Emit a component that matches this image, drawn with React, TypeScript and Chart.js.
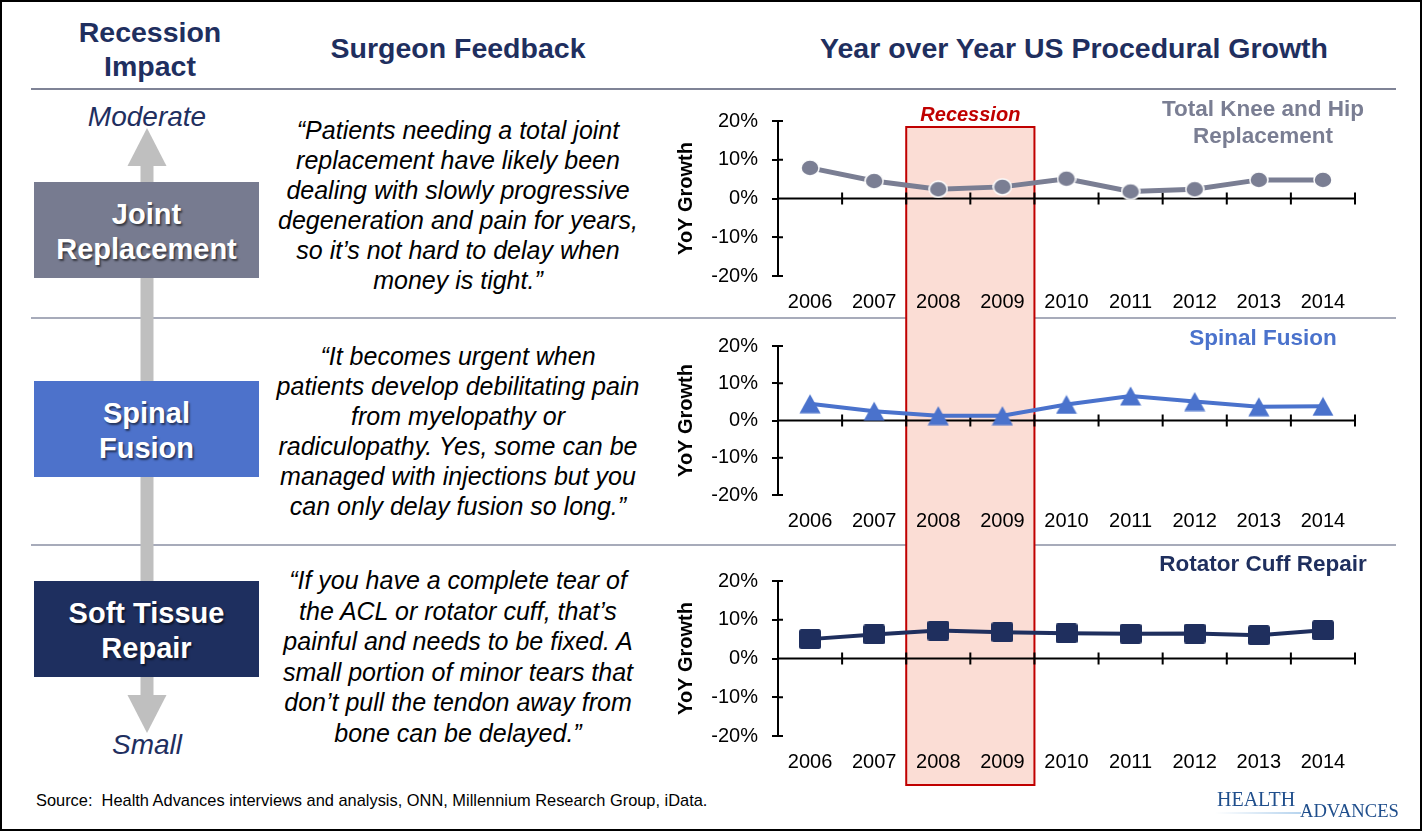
import React, { useEffect, useRef } from 'react';
import { Chart, registerables } from 'chart.js';

Chart.register(...registerables);

// ---------------- data ----------------
const years = ['2006', '2007', '2008', '2009', '2010', '2011', '2012', '2013', '2014'];
const kneeHipGrowth = [7.9, 4.5, 2.4, 3.0, 5.1, 1.8, 2.4, 4.8, 4.8];
const spinalFusionGrowth = [4.5, 2.5, 1.3, 1.3, 4.3, 6.6, 5.1, 3.7, 3.8];
const rotatorCuffGrowth = [5.0, 6.2, 7.2, 6.8, 6.5, 6.4, 6.45, 6.0, 7.3];
const yTickValues = [-20, -10, 0, 10, 20];
const recessionYears = ['2008', '2009'];

const seriesTitles = ['Total Knee and Hip\nReplacement', 'Spinal Fusion', 'Rotator Cuff Repair'];
const categoryNames = ['Joint\nReplacement', 'Spinal\nFusion', 'Soft Tissue\nRepair'];
const quotes = [
  '“Patients needing a total joint\nreplacement have likely been\ndealing with slowly progressive\ndegeneration and pain for years,\nso it’s not hard to delay when\nmoney is tight.”',
  '“It becomes urgent when\npatients develop debilitating pain\nfrom myelopathy or\nradiculopathy. Yes, some can be\nmanaged with injections but you\ncan only delay fusion so long.”',
  '“If you have a complete tear of\nthe ACL or rotator cuff, that’s\npainful and needs to be fixed. A\nsmall portion of minor tears that\ndon’t pull the tendon away from\nbone can be delayed.”',
];

const FONT = 'Arial, "Liberation Sans", sans-serif';
const NAVY = '#1F2F5F';
const GRAY_SERIES = '#7A7E93';
const BLUE_SERIES = '#4A72CC';
const NAVY_SERIES = '#1F2F5E';

type PanelCfg = {
  values: number[];
  color: string;
  lineWidth: number;
  marker: 'circle' | 'triangle' | 'square';
  top: number;
  height: number;
  padTop: number;
  areaH: number;
  bandTop: number | null;
  bandBottom: number | null;
  showLabel: boolean;
};

const panels: PanelCfg[] = [
  { values: kneeHipGrowth, color: GRAY_SERIES, lineWidth: 5, marker: 'circle', top: 95, height: 225, padTop: 25, areaH: 156, bandTop: 32, bandBottom: null, showLabel: true },
  { values: spinalFusionGrowth, color: BLUE_SERIES, lineWidth: 4, marker: 'triangle', top: 320, height: 225, padTop: 21, areaH: 154, bandTop: null, bandBottom: null, showLabel: false },
  { values: rotatorCuffGrowth, color: NAVY_SERIES, lineWidth: 4, marker: 'square', top: 545, height: 245, padTop: 36, areaH: 155, bandTop: null, bandBottom: 240, showLabel: false },
];

function makeMarker(kind: string, color: string): HTMLCanvasElement {
  const c = document.createElement('canvas');
  if (kind === 'circle') {
    c.width = 20; c.height = 18;
    const g = c.getContext('2d')!;
    g.beginPath();
    g.ellipse(10, 9, 9, 8, 0, 0, Math.PI * 2);
    g.fillStyle = color; g.fill();
    g.lineWidth = 1.5; g.strokeStyle = '#ffffff'; g.stroke();
  } else if (kind === 'triangle') {
    c.width = 22; c.height = 20;
    const g = c.getContext('2d')!;
    g.beginPath();
    g.moveTo(0.5, 19.5); g.lineTo(11, 0.5); g.lineTo(21.5, 19.5); g.closePath();
    g.fillStyle = color; g.fill();
  } else {
    c.width = 22; c.height = 20;
    const g = c.getContext('2d')!;
    const r = 2.5;
    g.beginPath();
    g.moveTo(r, 0); g.lineTo(22 - r, 0); g.quadraticCurveTo(22, 0, 22, r);
    g.lineTo(22, 20 - r); g.quadraticCurveTo(22, 20, 22 - r, 20);
    g.lineTo(r, 20); g.quadraticCurveTo(0, 20, 0, 20 - r);
    g.lineTo(0, r); g.quadraticCurveTo(0, 0, r, 0); g.closePath();
    g.fillStyle = color; g.fill();
  }
  return c;
}

const framePlugin = {
  id: 'frame',
  beforeDraw(chart: any, _args: any, opts: any) {
    const { ctx, scales } = chart;
    const x = scales.x;
    const half = (x.getPixelForValue(1) - x.getPixelForValue(0)) / 2;
    const i0 = years.indexOf(recessionYears[0]);
    const i1 = years.indexOf(recessionYears[recessionYears.length - 1]);
    const bx0 = x.getPixelForValue(i0) - half;
    const bx1 = x.getPixelForValue(i1) + half;
    const top = opts.bandTop ?? 0;
    const bottom = opts.bandBottom ?? chart.height;
    ctx.save();
    ctx.fillStyle = '#FBDDD5';
    ctx.fillRect(bx0, top, bx1 - bx0, bottom - top);
    ctx.strokeStyle = '#C00000';
    ctx.lineWidth = 2;
    ctx.beginPath();
    ctx.moveTo(bx0, top); ctx.lineTo(bx0, bottom);
    ctx.moveTo(bx1, top); ctx.lineTo(bx1, bottom);
    if (opts.bandTop != null) { ctx.moveTo(bx0 - 1, top); ctx.lineTo(bx1 + 1, top); }
    if (opts.bandBottom != null) { ctx.moveTo(bx0 - 1, bottom); ctx.lineTo(bx1 + 1, bottom); }
    ctx.stroke();
    if (opts.showLabel) {
      ctx.font = `italic bold 20px ${FONT}`;
      ctx.fillStyle = '#C00000';
      ctx.textAlign = 'center';
      ctx.textBaseline = 'middle';
      ctx.fillText('Recession', (bx0 + bx1) / 2, top - 12);
    }
    ctx.restore();
  },
  beforeDatasetsDraw(chart: any) {
    const { ctx, chartArea, scales } = chart;
    const x = scales.x;
    const y = scales.y;
    const half = (x.getPixelForValue(1) - x.getPixelForValue(0)) / 2;
    const y0 = y.getPixelForValue(0);
    ctx.save();
    ctx.strokeStyle = '#000';
    ctx.lineWidth = 2;
    ctx.beginPath();
    ctx.moveTo(chartArea.left, y0);
    ctx.lineTo(chartArea.right, y0);
    for (let k = 0; k < years.length; k++) {
      const xb = x.getPixelForValue(k) + half;
      ctx.moveTo(xb, y0 - 6);
      ctx.lineTo(xb, y0 + 6);
    }
    for (const v of yTickValues) {
      const yp = y.getPixelForValue(v);
      ctx.moveTo(chartArea.left, yp);
      ctx.lineTo(chartArea.left + 5, yp);
    }
    ctx.stroke();
    ctx.restore();
  },
};

function ChartPanel({ cfg }: { cfg: PanelCfg }) {
  const ref = useRef<HTMLCanvasElement | null>(null);
  useEffect(() => {
    if (!ref.current) return;
    const marker = makeMarker(cfg.marker, cfg.color);
    const xH = cfg.height - cfg.padTop - cfg.areaH;
    const chart = new Chart(ref.current, {
      type: 'line',
      data: {
        labels: years,
        datasets: [
          {
            data: cfg.values,
            borderColor: cfg.color,
            backgroundColor: cfg.color,
            borderWidth: cfg.lineWidth,
            pointStyle: marker as any,
            pointRadius: 10,
            tension: 0,
            fill: false,
            clip: false as any,
          },
        ],
      },
      options: {
        animation: false,
        responsive: false,
        layout: { padding: { left: 0, right: 45, top: cfg.padTop, bottom: 0 } },
        plugins: {
          legend: { display: false },
          tooltip: { enabled: false },
          frame: { bandTop: cfg.bandTop, bandBottom: cfg.bandBottom, showLabel: cfg.showLabel },
        } as any,
        scales: {
          x: {
            type: 'category',
            offset: true,
            grid: { display: false, drawTicks: false },
            border: { display: false },
            ticks: { font: { size: 20, family: FONT }, color: '#000', padding: 14, maxRotation: 0, autoSkip: false },
            afterFit: (s: any) => { s.height = xH; },
          },
          y: {
            min: -20,
            max: 20,
            afterBuildTicks: (s: any) => { s.ticks = yTickValues.map((v) => ({ value: v })); },
            ticks: { font: { size: 20, family: FONT }, color: '#000', padding: 14, callback: (v: any) => `${v}%` },
            grid: { drawOnChartArea: false, drawTicks: true, tickLength: 6, color: '#000', lineWidth: 2 },
            border: { display: true, color: '#000', width: 2 },
            title: { display: true, text: 'YoY Growth', color: '#000', font: { size: 20, weight: 'bold', family: FONT }, padding: { top: 14, bottom: 0 } },
            afterFit: (s: any) => { s.width = 118; },
          },
        },
      } as any,
      plugins: [framePlugin as any],
    });
    return () => chart.destroy();
  }, [cfg]);
  return (
    <canvas
      ref={ref}
      width={740}
      height={cfg.height}
      style={{ position: 'absolute', left: 660, top: cfg.top, width: 740, height: cfg.height }}
    />
  );
}

function Lines({ text, style }: { text: string; style: React.CSSProperties }) {
  return (
    <div style={{ position: 'absolute', textAlign: 'center', whiteSpace: 'pre', ...style }}>{text}</div>
  );
}

const boxTops = [182, 381, 581];
const boxColors = ['#777B90', '#4D72CB', '#1E2F5F'];
const quoteTops = [114.5, 341, 565];
const quoteLineHeights = [30, 30, 30.6];
const sepYs = [317, 544];
const titleColors = [GRAY_SERIES, BLUE_SERIES, NAVY_SERIES];
const titleTops = [94.5, 324, 550];

export default function App() {
  return (
    <div style={{ position: 'fixed', left: 0, top: 0, width: 1428, height: 833, background: '#fff', overflow: 'hidden', fontFamily: FONT }}>
      {/* frame */}
      <div style={{ position: 'absolute', left: 0, top: 0, width: 1422, height: 831, border: '2px solid #000', boxSizing: 'border-box' }} />
      {/* rules */}
      <div style={{ position: 'absolute', left: 31, top: 88, width: 1365, height: 2, background: '#7F8396' }} />
      {sepYs.map((y) => (
        <div key={y} style={{ position: 'absolute', left: 31, top: y, width: 1365, height: 2, background: '#A7ABBA' }} />
      ))}

      {/* headers */}
      <Lines text={'Recession\nImpact'} style={{ left: 50, top: 15, width: 200, fontSize: 28.5, lineHeight: '34px', fontWeight: 'bold', color: NAVY }} />
      <Lines text={'Surgeon Feedback'} style={{ left: 258, top: 31, width: 400, fontSize: 28.5, lineHeight: '34px', fontWeight: 'bold', color: NAVY }} />
      <Lines text={'Year over Year US Procedural Growth'} style={{ left: 774, top: 31, width: 600, fontSize: 28.5, lineHeight: '34px', fontWeight: 'bold', color: NAVY }} />

      {/* arrow */}
      <svg style={{ position: 'absolute', left: 0, top: 0 }} width={300} height={833}>
        <rect x={140.5} y={160} width={13} height={540} fill="#BFBFBF" />
        <polygon points="127.5,166 147,128 166.5,166" fill="#BFBFBF" />
        <polygon points="127.5,695 147,733 166.5,695" fill="#BFBFBF" />
      </svg>
      <Lines text={'Moderate'} style={{ left: 47, top: 100, width: 200, fontSize: 28, lineHeight: '34px', fontStyle: 'italic', color: NAVY }} />
      <Lines text={'Small'} style={{ left: 47, top: 728, width: 200, fontSize: 28, lineHeight: '34px', fontStyle: 'italic', color: NAVY }} />

      {/* category boxes */}
      {categoryNames.map((n, i) => (
        <div
          key={n}
          style={{
            position: 'absolute', left: 34, top: boxTops[i], width: 225, height: 96, background: boxColors[i],
            display: 'flex', alignItems: 'center', justifyContent: 'center', textAlign: 'center', whiteSpace: 'pre',
            color: '#fff', fontWeight: 'bold', fontSize: 29, lineHeight: '35px', textShadow: '1.5px 1.5px 2px rgba(0,0,0,0.55)',
          }}
        >
          <div style={{ marginTop: 3 }}>{n}</div>
        </div>
      ))}

      {/* quotes */}
      {quotes.map((q, i) => (
        <Lines key={i} text={q} style={{ left: 248, top: quoteTops[i], width: 420, fontSize: 25, lineHeight: `${quoteLineHeights[i]}px`, fontStyle: 'italic', color: '#000' }} />
      ))}

      {/* charts */}
      {panels.map((p, i) => (
        <ChartPanel key={i} cfg={p} />
      ))}

      {/* series titles */}
      {seriesTitles.map((t, i) => (
        <Lines key={t} text={t} style={{ left: 1113, top: titleTops[i], width: 300, fontSize: 22.5, lineHeight: '27px', fontWeight: 'bold', color: titleColors[i] }} />
      ))}

      {/* source */}
      <div style={{ position: 'absolute', left: 36, top: 790, fontSize: 16.4, lineHeight: '20px', whiteSpace: 'pre', color: '#000' }}>
        {'Source:  Health Advances interviews and analysis, ONN, Millennium Research Group, iData.'}
      </div>

      {/* logo */}
      <div style={{ position: 'absolute', left: 1215, top: 812, width: 86, height: 1.5, background: 'linear-gradient(to right, rgba(157,195,230,0), #B7D4EE)' }} />
      <div style={{ position: 'absolute', left: 1217, top: 788, fontFamily: '"Liberation Serif", "Times New Roman", serif', fontSize: 20, lineHeight: '22px', color: '#1F4E8C', whiteSpace: 'pre' }}>HEALTH</div>
      <div style={{ position: 'absolute', left: 1300, top: 800, fontFamily: '"Liberation Serif", "Times New Roman", serif', fontSize: 18.6, lineHeight: '21px', color: '#1F4E8C', whiteSpace: 'pre' }}>ADVANCES</div>
    </div>
  );
}
